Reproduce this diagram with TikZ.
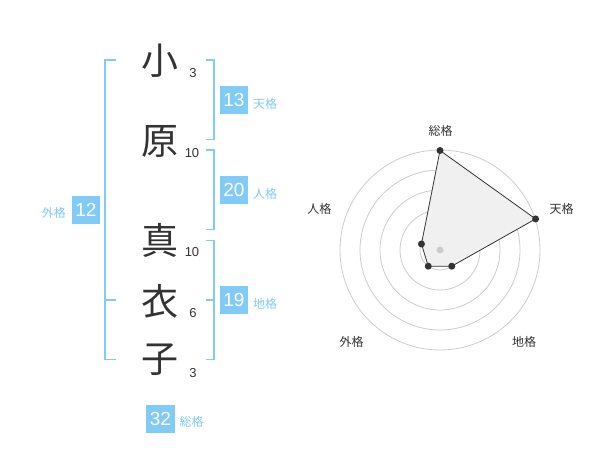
\documentclass[tikz,border=0pt]{standalone}
\usepackage{fontspec}
\setmainfont{Liberation Sans}
\newfontfamily\jp{Noto Sans CJK JP}
\definecolor{kblue}{HTML}{80CBF8}
\definecolor{kdark}{HTML}{333333}
\definecolor{kgrid}{HTML}{CCCCCC}
\definecolor{kfill}{HTML}{F0F0F0}
\tikzset{
  kanji/.style={font=\jp\fontsize{37}{37}\selectfont, text=kdark, inner sep=0pt},
  strokes/.style={font=\fontsize{13}{13}\selectfont, text=kdark, inner sep=0pt},
  scorebox/.style={fill=kblue, text=white, font=\fontsize{19}{19}\selectfont, minimum width=28.5pt, minimum height=28.5pt, inner sep=0pt},
  kakulabel/.style={font=\jp\fontsize{12}{12}\selectfont, text=kblue, inner sep=0pt},
  brk/.style={draw=kblue, line width=1.7pt},
  radlabel/.style={font=\jp\fontsize{12}{12}\selectfont, text=kdark, inner sep=0pt},
  ring/.style={draw=kgrid, line width=0.8pt},
  dot/.style={circle, fill=kdark, inner sep=0pt, minimum size=7pt},
}
\begin{document}
\begin{tikzpicture}[x=1pt,y=-1pt]
\useasboundingbox (0,0) rectangle (600,470);
% name characters
\node[kanji] (c1) at (160,61) {小};
\node[kanji] (c2) at (160,141) {原};
\node[kanji] (c3) at (160,240) {真};
\node[kanji] (c4) at (160,301) {衣};
\node[kanji] (c5) at (160,360) {子};
\node[strokes] (s1) at (193,73) {3};
\node[strokes] (s2) at (192,153) {10};
\node[strokes] (s3) at (192,252) {10};
\node[strokes] (s4) at (193,313) {6};
\node[strokes] (s5) at (193,373) {3};
% brackets
\coordinate (lt) at (105,60);
\coordinate (lb) at (105,359.5);
\draw[brk] (116,60) -- (lt) -- (lb) -- (116,359.5);
\draw[brk] (105,300) -- (116,300);
\draw[brk] (205.5,60) -- (214.3,60) -- (214.3,139.5) -- (205.5,139.5);
\draw[brk] (205.5,150) -- (214.3,150) -- (214.3,229.5) -- (205.5,229.5);
\draw[brk] (205.5,240.5) -- (214.3,240.5) -- (214.3,359.5) -- (205.5,359.5);
\draw[brk] (205.5,300) -- (214.3,300);
% score boxes
\node[scorebox] (ten) at (234,100) {13};
\node[kakulabel, anchor=west] (tenl) at (253,104) {天格};
\node[scorebox] (jin) at (234,190) {20};
\node[kakulabel, anchor=west] (jinl) at (253,194) {人格};
\node[scorebox] (chi) at (234,300) {19};
\node[kakulabel, anchor=west] (chil) at (253,304) {地格};
\node[scorebox] (gai) at (86,210) {12};
\node[kakulabel, anchor=east] (gail) at (66,213) {外格};
\node[scorebox] (sou) at (160.5,419) {32};
\node[kakulabel, anchor=west] (soul) at (179.5,422) {総格};
% radar chart
\coordinate (rc) at (440,250);
\begin{scope}[shift={(rc)}, y=1pt]
  \foreach \r in {20,40,60,80,100} \draw[ring] (0,0) circle[radius=\r pt];
  \coordinate (p1) at (90:99.5pt);
  \coordinate (p2) at (18:100.5pt);
  \coordinate (p3) at (-54:20pt);
  \coordinate (p4) at (-126:20pt);
  \coordinate (p5) at (162:19.5pt);
  \filldraw[fill=kfill, draw=kdark, line width=0.8pt] (p1) -- (p2) -- (p3) -- (p4) -- (p5) -- cycle;
  \node[circle, fill=kgrid, inner sep=0pt, minimum size=7pt] (cdot) at (0,0) {};
  \foreach \p in {p1,p2,p3,p4,p5} \node[dot] at (\p) {};
\end{scope}
\node[radlabel] (r1) at (440.7,130.5) {総格};
\node[radlabel] (r2) at (561.5,209) {天格};
\node[radlabel] (r3) at (524,342) {地格};
\node[radlabel] (r4) at (351.7,342) {外格};
\node[radlabel] (r5) at (319.3,209) {人格};
\end{tikzpicture}
\end{document}
